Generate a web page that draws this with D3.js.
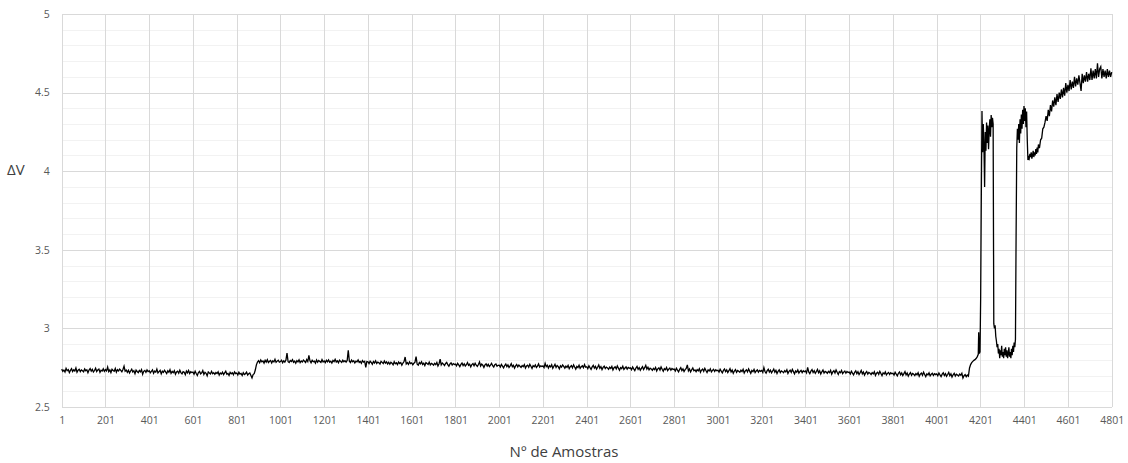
<!DOCTYPE html>
<html>
<head>
<meta charset="utf-8">
<script src="https://cdn.jsdelivr.net/npm/d3@7"></script>
<style>
  html, body { margin: 0; padding: 0; background: #fff; }
  svg { display: block; }
  text { font-family: "Open Sans", "Noto Sans", sans-serif; }
</style>
</head>
<body>
<svg id="chart" width="1128" height="463"></svg>
<script>
// ΔV readings per sample number.
// Drift section: one reading every 5 samples, in blocks of 1000 samples.
const driftStep = 5;
const drift0001 = [ // samples 1 – 996
  2.741, 2.727, 2.735, 2.722, 2.746, 2.731, 2.738, 2.719, 2.733, 2.744, 2.726, 2.737, 2.729, 2.748, 2.721, 2.734, 2.740, 2.725, 2.736, 2.730,
  2.724, 2.742, 2.731, 2.737, 2.718, 2.735, 2.745, 2.728, 2.739, 2.723, 2.732, 2.747, 2.726, 2.736, 2.741, 2.720, 2.734, 2.729, 2.743, 2.727,
  2.738, 2.730, 2.754, 2.725, 2.736, 2.719, 2.740, 2.732, 2.727, 2.745, 2.722, 2.737, 2.729, 2.741, 2.733, 2.724, 2.739, 2.760, 2.728, 2.735,
  2.721, 2.734, 2.716, 2.729, 2.740, 2.723, 2.731, 2.712, 2.735, 2.726, 2.719, 2.733, 2.724, 2.738, 2.708, 2.727, 2.732, 2.720, 2.736, 2.725,
  2.731, 2.718, 2.727, 2.736, 2.715, 2.729, 2.722, 2.741, 2.717, 2.725, 2.733, 2.711, 2.728, 2.720, 2.734, 2.724, 2.713, 2.730, 2.721, 2.737,
  2.714, 2.726, 2.718, 2.731, 2.709, 2.723, 2.728, 2.715, 2.734, 2.719, 2.711, 2.725, 2.721, 2.706, 2.729, 2.717, 2.732, 2.713, 2.724, 2.719,
  2.722, 2.709, 2.728, 2.713, 2.701, 2.719, 2.726, 2.711, 2.717, 2.732, 2.707, 2.721, 2.714, 2.698, 2.723, 2.716, 2.710, 2.727, 2.712, 2.718,
  2.708, 2.719, 2.713, 2.724, 2.703, 2.716, 2.710, 2.722, 2.706, 2.717, 2.728, 2.709, 2.714, 2.701, 2.720, 2.711, 2.718, 2.705, 2.723, 2.712,
  2.716, 2.704, 2.721, 2.709, 2.713, 2.700, 2.718, 2.707, 2.712, 2.722, 2.703, 2.711, 2.716, 2.701, 2.685, 2.706, 2.712, 2.735, 2.768, 2.786,
  2.795, 2.782, 2.799, 2.788, 2.793, 2.779, 2.797, 2.786, 2.801, 2.783, 2.791, 2.796, 2.780, 2.794, 2.787, 2.803, 2.784, 2.792, 2.798, 2.785
];
const drift1001 = [ // samples 1001 – 1996
  2.789, 2.797, 2.781, 2.794, 2.786, 2.799, 2.843, 2.788, 2.783, 2.796, 2.790, 2.801, 2.784, 2.792, 2.778, 2.795, 2.787, 2.800, 2.782, 2.793,
  2.786, 2.798, 2.791, 2.783, 2.802, 2.789, 2.828, 2.794, 2.781, 2.797, 2.788, 2.792, 2.779, 2.799, 2.785, 2.796, 2.790, 2.784, 2.801, 2.787,
  2.793, 2.782, 2.797, 2.788, 2.800, 2.785, 2.791, 2.779, 2.796, 2.789, 2.803, 2.786, 2.794, 2.781, 2.798, 2.790, 2.784, 2.797, 2.788, 2.795,
  2.786, 2.796, 2.860, 2.791, 2.783, 2.798, 2.788, 2.794, 2.780, 2.792, 2.787, 2.799, 2.784, 2.790, 2.778, 2.795, 2.786, 2.791, 2.752, 2.789,
  2.788, 2.776, 2.791, 2.783, 2.772, 2.789, 2.780, 2.794, 2.777, 2.786, 2.781, 2.773, 2.790, 2.784, 2.776, 2.792, 2.779, 2.787, 2.774, 2.785,
  2.772, 2.785, 2.779, 2.768, 2.788, 2.775, 2.781, 2.770, 2.786, 2.777, 2.783, 2.766, 2.780, 2.789, 2.818, 2.774, 2.782, 2.771, 2.787, 2.776,
  2.781, 2.769, 2.778, 2.785, 2.820, 2.772, 2.766, 2.783, 2.775, 2.788, 2.770, 2.779, 2.764, 2.782, 2.776, 2.771, 2.786, 2.768, 2.777, 2.773,
  2.766, 2.778, 2.770, 2.783, 2.761, 2.775, 2.805, 2.768, 2.780, 2.773, 2.764, 2.777, 2.784, 2.769, 2.759, 2.774, 2.781, 2.767, 2.776, 2.770,
  2.773, 2.762, 2.778, 2.768, 2.757, 2.771, 2.780, 2.764, 2.775, 2.760, 2.769, 2.783, 2.765, 2.772, 2.755, 2.770, 2.776, 2.763, 2.779, 2.766,
  2.758, 2.770, 2.786, 2.761, 2.773, 2.766, 2.752, 2.768, 2.775, 2.760, 2.771, 2.757, 2.767, 2.778, 2.763, 2.754, 2.769, 2.774, 2.759, 2.765
];
const drift2001 = [ // samples 2001 – 2996
  2.766, 2.754, 2.771, 2.760, 2.749, 2.764, 2.773, 2.757, 2.768, 2.752, 2.762, 2.776, 2.756, 2.765, 2.747, 2.761, 2.770, 2.755, 2.767, 2.759,
  2.752, 2.764, 2.757, 2.770, 2.748, 2.761, 2.766, 2.753, 2.772, 2.759, 2.745, 2.763, 2.756, 2.768, 2.751, 2.760, 2.774, 2.754, 2.762, 2.757,
  2.761, 2.750, 2.778, 2.757, 2.766, 2.748, 2.763, 2.755, 2.769, 2.746, 2.759, 2.771, 2.752, 2.764, 2.757, 2.743, 2.762, 2.754, 2.767, 2.758,
  2.747, 2.760, 2.752, 2.765, 2.744, 2.757, 2.763, 2.749, 2.768, 2.754, 2.741, 2.758, 2.751, 2.766, 2.746, 2.756, 2.762, 2.750, 2.770, 2.753,
  2.756, 2.744, 2.762, 2.750, 2.739, 2.755, 2.765, 2.747, 2.758, 2.741, 2.753, 2.767, 2.746, 2.757, 2.738, 2.752, 2.760, 2.745, 2.754, 2.749,
  2.740, 2.753, 2.745, 2.758, 2.736, 2.750, 2.756, 2.742, 2.761, 2.747, 2.734, 2.751, 2.744, 2.759, 2.739, 2.748, 2.755, 2.741, 2.752, 2.746,
  2.749, 2.737, 2.755, 2.743, 2.732, 2.748, 2.758, 2.740, 2.751, 2.734, 2.746, 2.757, 2.738, 2.750, 2.765, 2.741, 2.753, 2.736, 2.747, 2.742,
  2.733, 2.746, 2.738, 2.752, 2.729, 2.743, 2.749, 2.735, 2.755, 2.740, 2.727, 2.744, 2.737, 2.751, 2.731, 2.741, 2.748, 2.734, 2.745, 2.739,
  2.741, 2.729, 2.747, 2.735, 2.724, 2.740, 2.750, 2.732, 2.743, 2.726, 2.738, 2.745, 2.768, 2.730, 2.742, 2.723, 2.737, 2.748, 2.731, 2.736,
  2.725, 2.738, 2.730, 2.744, 2.721, 2.735, 2.741, 2.727, 2.746, 2.732, 2.719, 2.736, 2.729, 2.743, 2.723, 2.733, 2.740, 2.726, 2.737, 2.731
];
const drift3001 = [ // samples 3001 – 3996
  2.734, 2.722, 2.740, 2.728, 2.717, 2.733, 2.742, 2.725, 2.736, 2.719, 2.731, 2.744, 2.723, 2.735, 2.715, 2.729, 2.738, 2.721, 2.732, 2.727,
  2.721, 2.734, 2.726, 2.740, 2.716, 2.730, 2.737, 2.723, 2.742, 2.728, 2.714, 2.732, 2.725, 2.739, 2.719, 2.729, 2.736, 2.722, 2.733, 2.727,
  2.732, 2.720, 2.750, 2.726, 2.715, 2.731, 2.740, 2.722, 2.734, 2.717, 2.729, 2.741, 2.721, 2.733, 2.713, 2.727, 2.736, 2.719, 2.730, 2.725,
  2.718, 2.731, 2.723, 2.737, 2.713, 2.727, 2.734, 2.720, 2.739, 2.725, 2.711, 2.729, 2.722, 2.736, 2.716, 2.726, 2.733, 2.719, 2.730, 2.724,
  2.729, 2.717, 2.752, 2.723, 2.712, 2.728, 2.738, 2.719, 2.731, 2.714, 2.726, 2.739, 2.718, 2.730, 2.710, 2.724, 2.735, 2.716, 2.727, 2.722,
  2.714, 2.727, 2.719, 2.733, 2.709, 2.723, 2.731, 2.716, 2.736, 2.721, 2.707, 2.725, 2.718, 2.732, 2.712, 2.722, 2.729, 2.715, 2.726, 2.720,
  2.722, 2.710, 2.728, 2.716, 2.705, 2.721, 2.730, 2.712, 2.724, 2.707, 2.719, 2.733, 2.711, 2.723, 2.703, 2.717, 2.726, 2.709, 2.720, 2.715,
  2.706, 2.719, 2.711, 2.724, 2.701, 2.715, 2.721, 2.708, 2.727, 2.713, 2.699, 2.717, 2.710, 2.723, 2.704, 2.714, 2.720, 2.707, 2.718, 2.712,
  2.715, 2.703, 2.721, 2.709, 2.698, 2.714, 2.723, 2.705, 2.717, 2.700, 2.712, 2.725, 2.704, 2.716, 2.696, 2.710, 2.719, 2.702, 2.713, 2.708,
  2.700, 2.713, 2.705, 2.718, 2.695, 2.709, 2.716, 2.702, 2.721, 2.707, 2.693, 2.711, 2.704, 2.717, 2.698, 2.708, 2.714, 2.701, 2.712, 2.706
];
const drift4001 = [ // samples 4001 – 4191
  2.710, 2.698, 2.716, 2.704, 2.693, 2.709, 2.718, 2.700, 2.712, 2.695, 2.707, 2.720, 2.699, 2.711, 2.691, 2.705, 2.714, 2.697, 2.708, 2.703,
  2.697, 2.709, 2.702, 2.714, 2.684, 2.699, 2.706, 2.693, 2.703, 2.696, 2.748, 2.770, 2.782, 2.790, 2.797, 2.801, 2.808, 2.819, 2.835
];

// Switching section: samples 4193 … 4469, one reading every 3 samples.
const burstStart = 4193, burstStep = 3;
const burst = [
  2.975, 2.840, 2.850, 3.200, 3.850, 4.383, 4.120, 4.300, 4.160, 3.900,
  4.250, 4.130, 4.310, 4.180, 4.290, 4.140, 4.260, 4.330, 4.220, 4.357,
  4.280, 4.340, 4.300, 3.030,
  3.00, 3.02, 2.95, 2.92, 2.88, 2.90, 2.84, 2.87, 2.81, 2.86,
  2.83, 2.89, 2.82, 2.85, 2.81, 2.87, 2.83, 2.88, 2.82, 2.86,
  2.81, 2.84, 2.88, 2.82, 2.85, 2.81, 2.87, 2.83, 2.89, 2.85,
  2.91, 2.88, 2.93,
  3.60, 4.15, 4.27, 4.20, 4.30, 4.18, 4.33, 4.24, 4.36, 4.27,
  4.39, 4.30, 4.415, 4.32, 4.40, 4.28, 4.38, 4.20, 4.071,
  4.09, 4.08, 4.11, 4.09, 4.12, 4.08, 4.10, 4.13, 4.09, 4.12,
  4.10, 4.14, 4.11, 4.15, 4.12, 4.17, 4.15
];

// Recovery section: samples 4471 … 4801, one reading every 5 samples.
const tailStart = 4471, tailStep = 5;
const tail = [
  4.15, 4.20, 4.21, 4.27, 4.28, 4.31, 4.35, 4.32, 4.39, 4.35,
  4.42, 4.38, 4.45, 4.41, 4.47, 4.42, 4.49, 4.44, 4.50, 4.46,
  4.52, 4.47, 4.53, 4.48, 4.56, 4.50, 4.55, 4.51, 4.58, 4.52,
  4.57, 4.53, 4.60, 4.54, 4.59, 4.55, 4.61, 4.56, 4.51, 4.62,
  4.56, 4.61, 4.57, 4.63, 4.57, 4.62, 4.58, 4.655, 4.58, 4.64,
  4.59, 4.65, 4.59, 4.686, 4.60, 4.65, 4.665, 4.59, 4.65, 4.60,
  4.64, 4.59, 4.65, 4.60, 4.64, 4.60, 4.63
];

// Axis labels
const xTickLabels = d3.range(1, 4802, 200);          // 1, 201, … 4801
const yTickLabels = [2.5, 3, 3.5, 4, 4.5, 5];
const yMinorTicks = d3.range(26, 50).map(d => d / 10).filter(v => !yTickLabels.includes(v));
const xTitle = "Nº de Amostras";
const yTitle = "ΔV";

// Assemble [sample, value] pairs
function section(start, step, values) {
  return values.map((v, i) => [start + i * step, v]);
}
const series = [].concat(
  section(1, driftStep, drift0001),
  section(1001, driftStep, drift1001),
  section(2001, driftStep, drift2001),
  section(3001, driftStep, drift3001),
  section(4001, driftStep, drift4001),
  section(burstStart, burstStep, burst),
  section(tailStart, tailStep, tail)
);

// Layout
const svg = d3.select("#chart");
const plot = { left: 61.7, right: 1111.7, top: 14, bottom: 407 };

const x = d3.scaleLinear().domain([1, 4801]).range([plot.left, plot.right]);
const y = d3.scaleLinear().domain([2.5, 5]).range([plot.bottom, plot.top]);

svg.append("rect").attr("width", 1128).attr("height", 463).attr("fill", "#fff");

// Minor horizontal grid
svg.append("g")
  .attr("transform", `translate(${plot.left},0)`)
  .call(d3.axisLeft(y).tickValues(yMinorTicks).tickSize(-(plot.right - plot.left)).tickFormat(""))
  .call(g => g.select(".domain").remove())
  .call(g => g.selectAll("line").attr("stroke", "#f2f2f2").attr("stroke-width", 1).attr("shape-rendering", "crispEdges"));

// Major horizontal grid + y labels
svg.append("g")
  .attr("transform", `translate(${plot.left},0)`)
  .call(d3.axisLeft(y).tickValues(yTickLabels).tickSize(-(plot.right - plot.left)).tickPadding(12)
        .tickFormat(d => String(d)))
  .call(g => g.select(".domain").remove())
  .call(g => g.selectAll("line").attr("stroke", "#d9d9d9").attr("stroke-width", 1).attr("shape-rendering", "crispEdges"))
  .call(g => g.selectAll("text").attr("fill", "#595959").style("font-size", "10.5px")
        .style("font-family", "'Open Sans', sans-serif"));

// Vertical grid + x labels
svg.append("g")
  .attr("transform", `translate(0,${plot.bottom})`)
  .call(d3.axisBottom(x).tickValues(xTickLabels).tickSize(-(plot.bottom - plot.top)).tickPadding(10)
        .tickFormat(d => String(d)))
  .call(g => g.select(".domain").remove())
  .call(g => g.selectAll("line").attr("stroke", "#d9d9d9").attr("stroke-width", 1).attr("shape-rendering", "crispEdges"))
  .call(g => g.selectAll("text").attr("fill", "#595959").style("font-size", "10.5px")
        .style("font-family", "'Open Sans', sans-serif"));

// Data line
svg.append("path")
  .datum(series)
  .attr("fill", "none")
  .attr("stroke", "#000")
  .attr("stroke-width", 1.3)
  .attr("stroke-linejoin", "miter")
  .attr("d", d3.line().x(d => x(d[0])).y(d => y(d[1])));

// Axis titles
svg.append("text")
  .attr("x", 564).attr("y", 457)
  .attr("text-anchor", "middle")
  .attr("fill", "#404040")
  .style("font-size", "15px")
  .text(xTitle);

svg.append("text")
  .attr("x", 7).attr("y", 175)
  .attr("fill", "#404040")
  .style("font-size", "15px")
  .text(yTitle);
</script>
</body>
</html>
